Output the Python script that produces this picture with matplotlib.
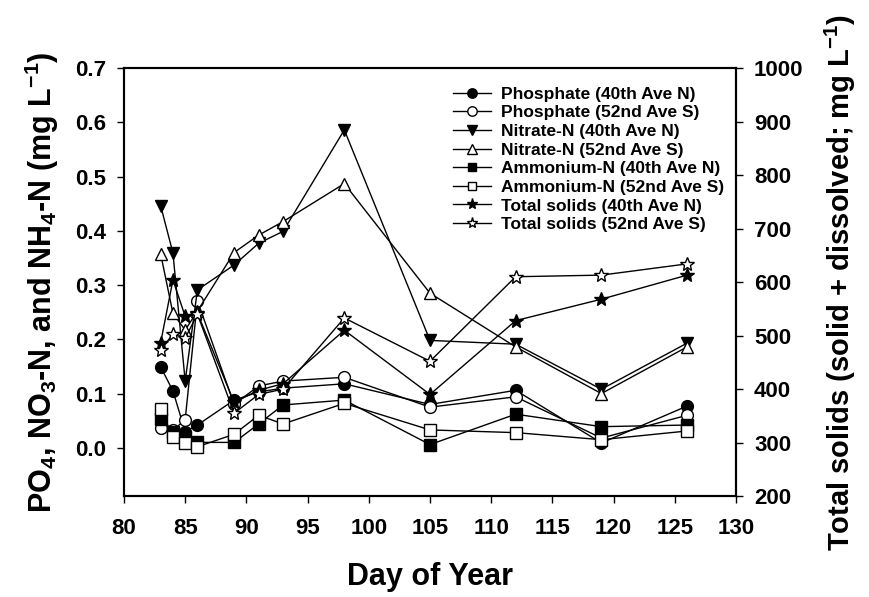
import matplotlib
matplotlib.use('Agg')
import matplotlib.pyplot as plt

plt.rcParams['font.family'] = ['Liberation Sans', 'DejaVu Sans']
plt.rcParams['font.weight'] = 'bold'
plt.rcParams['mathtext.fontset'] = 'custom'
plt.rcParams['mathtext.rm'] = 'Liberation Sans:bold'
plt.rcParams['mathtext.bf'] = 'Liberation Sans:bold'
plt.rcParams['mathtext.default'] = 'rm'

# day of year
days = [83, 84, 85, 86, 89, 91, 93, 98, 105, 112, 119, 126]

# left axis (mg/L)
phos_40 = [0.149, 0.105, 0.030, 0.042, 0.088, 0.103, 0.110, 0.118, 0.080, 0.106, 0.009, 0.077]
phos_52 = [0.037, 0.032, 0.052, 0.271, 0.080, 0.114, 0.123, 0.130, 0.075, 0.094, 0.018, 0.060]
nitr_40 = [0.446, 0.359, 0.123, 0.291, 0.337, 0.377, 0.399, 0.586, 0.198, 0.191, 0.108, 0.193]
nitr_52 = [0.357, 0.248, 0.217, 0.252, 0.360, 0.392, 0.417, 0.487, 0.285, 0.186, 0.100, 0.186]
ammo_40 = [0.053, 0.030, 0.020, 0.010, 0.010, 0.044, 0.079, 0.088, 0.006, 0.062, 0.039, 0.042]
ammo_52 = [0.071, 0.020, 0.009, 0.002, 0.025, 0.060, 0.044, 0.082, 0.033, 0.028, 0.015, 0.031]

# right axis (mg/L)
ts_40 = [487, 604, 536, 542, 375, 398, 410, 510, 390, 528, 568, 613]
ts_52 = [473, 503, 495, 540, 355, 390, 400, 533, 452, 610, 613, 634]

labels = ['Phosphate (40th Ave N)', 'Phosphate (52nd Ave S)',
          'Nitrate-N (40th Ave N)', 'Nitrate-N (52nd Ave S)',
          'Ammonium-N (40th Ave N)', 'Ammonium-N (52nd Ave S)',
          'Total solids (40th Ave N)', 'Total solids (52nd Ave S)']

fig = plt.figure(figsize=(8.7, 5.97), dpi=100)
ax = fig.add_axes([0.1425, 0.169, 0.7035, 0.717])
ax2 = ax.twinx()

kw = dict(color='black', lw=1, markeredgecolor='black', markeredgewidth=1)
handles = []
handles += ax.plot(days, phos_40, marker='o', markersize=8.5, markerfacecolor='black', **kw)
handles += ax.plot(days, phos_52, marker='o', markersize=8.5, markerfacecolor='white', **kw)
handles += ax.plot(days, nitr_40, marker='v', markersize=9, markerfacecolor='black', **kw)
handles += ax.plot(days, nitr_52, marker='^', markersize=9, markerfacecolor='white', **kw)
handles += ax.plot(days, ammo_40, marker='s', markersize=8, markerfacecolor='black', **kw)
handles += ax.plot(days, ammo_52, marker='s', markersize=8, markerfacecolor='white', **kw)
handles += ax2.plot(days, ts_40, marker='*', markersize=10, markerfacecolor='black', **kw)
handles += ax2.plot(days, ts_52, marker='*', markersize=10, markerfacecolor='white', **kw)

ax.set_xlim(80, 130)
ax.set_ylim(-0.089, 0.7)
ax2.set_ylim(200, 1000)
ax.set_xticks(range(80, 131, 5))
ax.set_yticks([0.0, 0.1, 0.2, 0.3, 0.4, 0.5, 0.6, 0.7])
ax.set_yticklabels(['0.0', '0.1', '0.2', '0.3', '0.4', '0.5', '0.6', '0.7'])
ax2.set_yticks(range(200, 1001, 100))

for a in (ax, ax2):
    a.tick_params(direction='out', length=5, width=1, labelsize=16, pad=8)
    for s in a.spines.values():
        s.set_linewidth(1.5)
ax.tick_params(axis='x', pad=11)

ax.set_xlabel('Day of Year', fontsize=22, fontweight='bold', labelpad=16)
ax.set_ylabel(r'PO$_4$, NO$_3$-N, and NH$_4$-N (mg L$^{-1}$)', fontsize=22, fontweight='bold', labelpad=10)
ax2.set_ylabel(r'Total solids (solid + dissolved; mg L$^{-1}$)', fontsize=21, fontweight='bold', labelpad=14)

ax.legend(handles, labels, loc='upper right', bbox_to_anchor=(1.0, 0.985), frameon=False,
          handlelength=2.2, labelspacing=0.2, handletextpad=0.55, markerscale=0.8,
          borderaxespad=0.3, prop={'weight': 'bold', 'size': 12.5})

fig.savefig('out.png', dpi=100)
